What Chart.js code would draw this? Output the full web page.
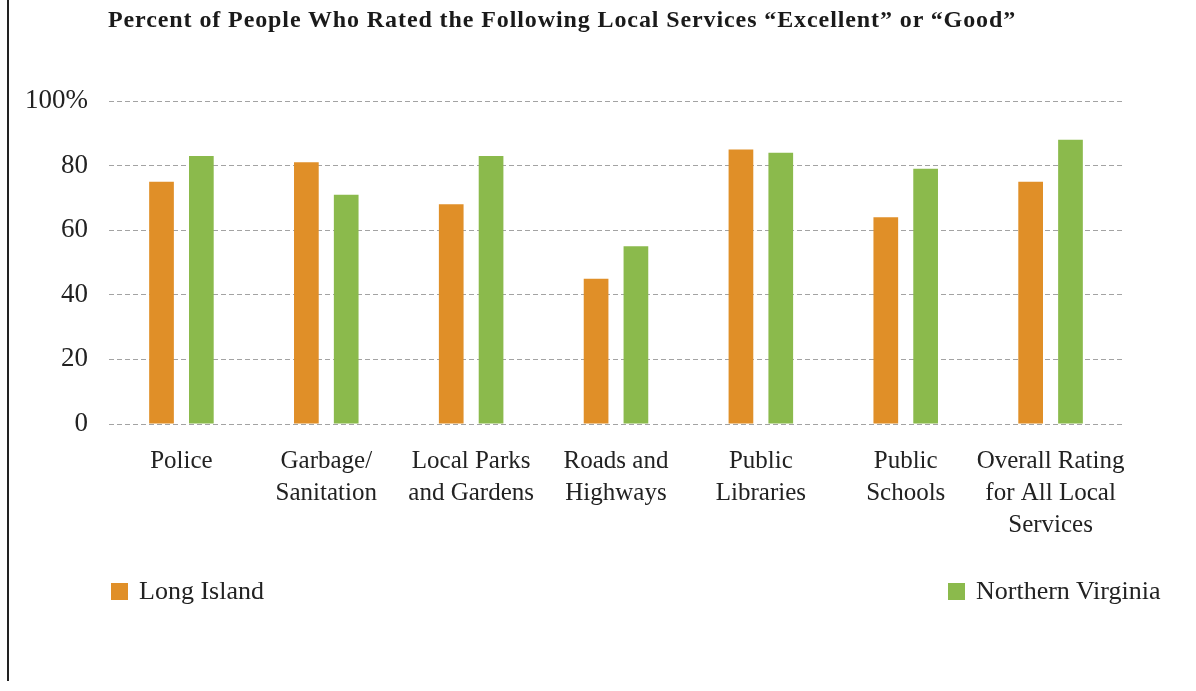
<!DOCTYPE html>
<html>
<head>
<meta charset="utf-8">
<title>Local Services Ratings</title>
<script src="https://cdn.jsdelivr.net/npm/chart.js@4/dist/chart.umd.min.js"></script>
<style>
  body { margin: 0; background: #fff; }
  #wrap { position: relative; width: 1196px; height: 691px; }
  #title { position: absolute; left: 108px; top: 6px; font-family: "Liberation Serif", serif; font-weight: bold; font-size: 24px; letter-spacing: 0.9px; color: #1a1a1a; white-space: nowrap; }
  #legend { position: absolute; left: 0; top: 576px; width: 1196px; height: 32px; font-family: "Liberation Serif", serif; font-size: 26px; color: #222; }
  .item { position: absolute; top: 0; white-space: nowrap; }
  .box { display: inline-block; width: 17px; height: 17px; margin-right: 11px; vertical-align: -1px; }
</style>
</head>
<body>
<div id="wrap">
  <canvas id="myChart" width="1196" height="691"></canvas>
  <div id="title">Percent of People Who Rated the Following Local Services “Excellent” or “Good”</div>
  <div id="legend"></div>
</div>
<script>
// data
var categories = [
  "Police",
  ["Garbage/", "Sanitation"],
  ["Local Parks", "and Gardens"],
  ["Roads and", "Highways"],
  ["Public", "Libraries"],
  ["Public", "Schools"],
  ["Overall Rating", "for All Local", "Services"]
];
var longIsland = [75, 81, 68, 45, 85, 64, 75];
var northernVirginia = [83, 71, 83, 55, 84, 79, 88];
var yTicks = [0, 20, 40, 60, 80, 100];

var orange = "#E08F28";
var green = "#8BBA4C";
var serif = "Liberation Serif";

// thin black rule down the left edge
var leftRule = {
  id: "leftRule",
  afterDraw: function(chart) {
    var ctx = chart.ctx;
    ctx.save();
    ctx.strokeStyle = "#222";
    ctx.lineWidth = 2;
    ctx.beginPath();
    ctx.moveTo(8, 0);
    ctx.lineTo(8, 681);
    ctx.stroke();
    ctx.restore();
  }
};

var ctx = document.getElementById("myChart").getContext("2d");
var chart = new Chart(ctx, {
  type: "bar",
  data: {
    labels: categories,
    datasets: [
      {
        label: "Long Island",
        backgroundColor: orange,
        data: longIsland
      },
      {
        label: "Northern Virginia",
        backgroundColor: green,
        data: northernVirginia
      }
    ]
  },
  options: {
    responsive: false,
    animation: false,
    categoryPercentage: 0.55,
    barPercentage: 0.62,
    layout: {
      padding: { left: 0, right: 73, top: 101, bottom: 137 }
    },
    plugins: {
      legend: { display: false },
      tooltip: { enabled: false },
      title: { display: false }
    },
    scales: {
      x: {
        grid: { display: false },
        border: { display: false },
        ticks: {
          color: "#222",
          font: { family: serif, size: 25, lineHeight: 1.28 },
          maxRotation: 0,
          autoSkip: false,
          padding: 13
        }
      },
      y: {
        min: 0,
        max: 100,
        afterFit: function(scale) { scale.width = 109; },
        afterBuildTicks: function(scale) {
          scale.ticks = yTicks.map(function(v) { return { value: v }; });
        },
        grid: { color: "#A3A3A3", lineWidth: 1, drawTicks: false },
        border: { display: false, dash: [5, 3] },
        ticks: {
          color: "#222",
          font: { family: serif, size: 27 },
          padding: 21,
          callback: function(v) { return v === 100 ? "100%" : v; }
        }
      }
    }
  },
  plugins: [leftRule]
});

// legend split to both sides like the original
var legend = document.getElementById("legend");
var spots = [{ left: 111 }, { left: 948 }];
chart.data.datasets.forEach(function(ds, i) {
  var item = document.createElement("div");
  item.className = "item";
  item.style.left = spots[i].left + "px";
  item.innerHTML = '<span class="box" style="background:' + ds.backgroundColor + '"></span>' + ds.label;
  legend.appendChild(item);
});
</script>
</body>
</html>
